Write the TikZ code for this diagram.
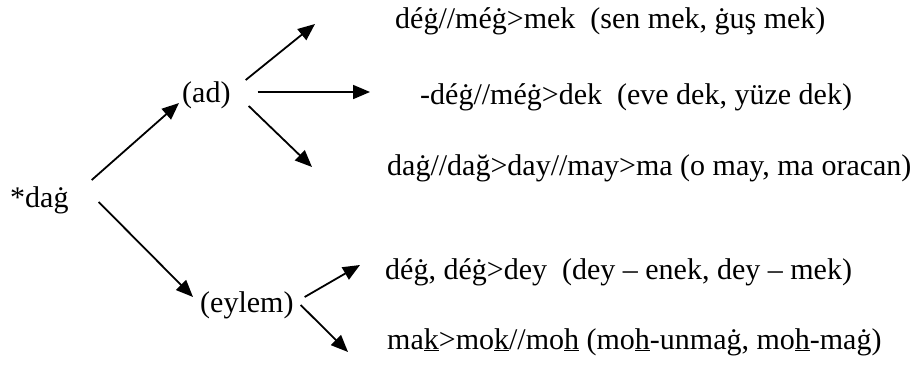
\documentclass[tikz,border=0pt]{standalone}
\usepackage{fontspec}
\setmainfont{Liberation Serif}
\usetikzlibrary{arrows.meta}

\tikzset{
  word/.style={anchor=base west,inner sep=0pt,font=\fontsize{30}{36}\selectfont},
  arr/.style={line width=1.8pt,-{Triangle[length=17pt,width=14pt]}}
}

\begin{document}
\begin{tikzpicture}[x=1pt,y=1pt]
\useasboundingbox (0,0) rectangle (916,368);

% root and the two branches
\node[word] (dag) at (10,161) {*daġ};
\node[word] (ad) at (182,266) {(ad)};
\node[word] (eylem) at (200,56) {(eylem)};

% forms under (ad)
\node[word] (m1) at (395,340) {déġ//méġ>mek~ (sen mek, ġuş mek)};
\node[word] (m2) at (420,264) {-déġ//méġ>dek~ (eve dek, yüze dek)};
\node[word] (m3) at (387,193) {daġ//dağ>day//may>ma (o may, ma oracan)};

% forms under (eylem)
\node[word] (m4) at (385,89) {déġ, déġ>dey~ (dey – enek, dey – mek)};
\node[word] (m5) at (387,19) {ma\underline{k}>mo\underline{k}//mo\underline{h} (mo\underline{h}-unmaġ, mo\underline{h}-maġ)};

\draw[arr] ([shift={(23,27)}]dag.base east) -- ([shift={(-3,-1)}]ad.base west);
\draw[arr] ([shift={(30,5)}]dag.base east) -- ([shift={(-7,15)}]eylem.base west);

\draw[arr] ([shift={(15,22)}]ad.base east) -- ([shift={(-80,4)}]m1.base west);
\draw[arr] ([shift={(27,10)}]ad.base east) -- ([shift={(-50,12)}]m2.base west);
\draw[arr] ([shift={(18,-4)}]ad.base east) -- ([shift={(-75,8)}]m3.base west);

\draw[arr] ([shift={(11,15)}]eylem.base east) -- ([shift={(-25,14)}]m4.base west);
\draw[arr] ([shift={(7,7)}]eylem.base east) -- ([shift={(-39,-3)}]m5.base west);
\end{tikzpicture}
\end{document}
